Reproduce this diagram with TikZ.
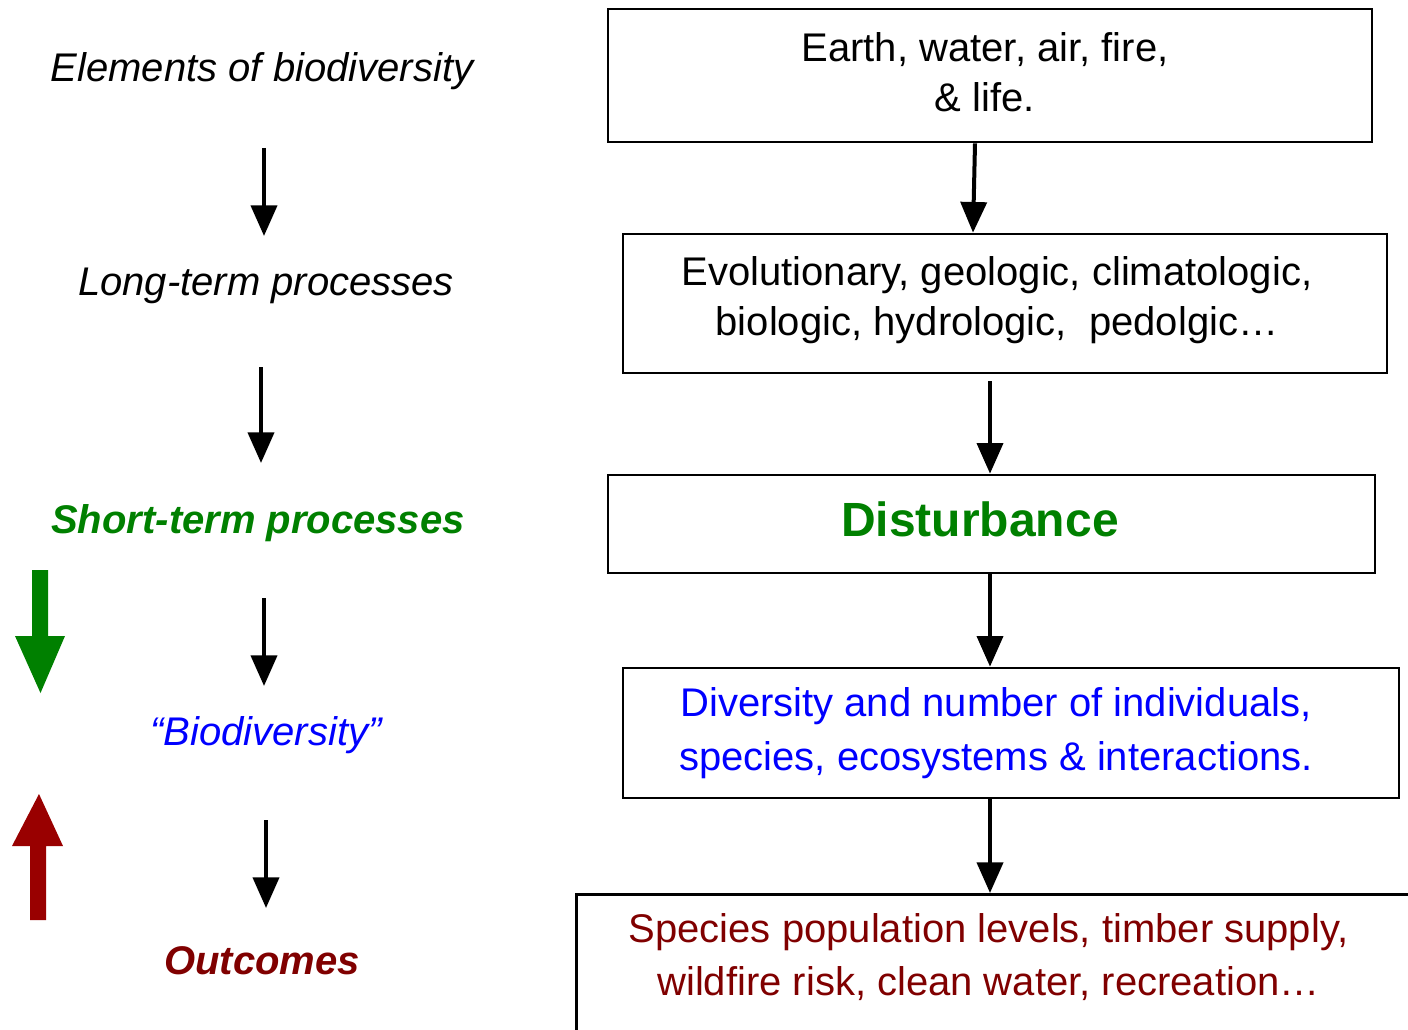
\documentclass[tikz,border=0pt]{standalone}
\usepackage{fontspec}
\setmainfont{Liberation Sans}
\usetikzlibrary{arrows.meta,calc}

\definecolor{bdgreen}{RGB}{0,128,0}
\definecolor{bdblue}{RGB}{0,0,255}
\definecolor{bdred}{RGB}{128,0,0}
\definecolor{bdarrowred}{RGB}{153,0,0}

\tikzset{every picture/.style={line width=0.75pt}}
\tikzset{
  box/.style={draw, line width=2pt, inner sep=0pt},
  boxtxt/.style={align=center, inner sep=0pt, font=\fontsize{30}{37.5}\selectfont},
  lefttxt/.style={inner sep=0pt, font=\fontsize{30}{36}\selectfont\itshape},
  flowarrow/.style={-{Triangle[width=19.5pt,length=23pt]}, line width=3pt}
}

\begin{document}
\begin{tikzpicture}[x=0.75pt,y=0.75pt,yscale=-1,xscale=1]
\useasboundingbox (0,0) rectangle (1408,1030);
\clip (0,0) rectangle (1408,1030);

% Left column
\node[lefttxt] (l1) at (262,71) {Elements of biodiversity};
\node[lefttxt] (l2) at (266,286) {Long-term processes};
\node[lefttxt, font=\fontsize{30}{36}\selectfont\bfseries\itshape, text=bdgreen] (l3) at (258,523) {Short-term processes};
\node[lefttxt, text=bdblue] (l4) at (266,735) {“Biodiversity”};
\node[lefttxt, font=\fontsize{30}{36}\selectfont\bfseries\itshape, text=bdred] (l5) at (262,961) {Outcomes};

\coordinate (a1s) at (264,148);
\coordinate (a1e) at (264,236);
\coordinate (a2s) at (261,367);
\coordinate (a2e) at (261,463);
\coordinate (a3s) at (264,598);
\coordinate (a3e) at (264,686);
\coordinate (a4s) at (266,820);
\coordinate (a4e) at (266,908);
\draw[flowarrow] (a1s) -- (a1e);
\draw[flowarrow] (a2s) -- (a2e);
\draw[flowarrow] (a3s) -- (a3e);
\draw[flowarrow] (a4s) -- (a4e);

% Big arrows
\fill[bdgreen] (32,570) -- (48,570) -- (48,636) -- (65,636) -- (40.5,693) -- (15,636) -- (32,636) -- cycle;
\fill[bdarrowred] (30,920) -- (46,920) -- (46,846) -- (63,846) -- (39,794) -- (12,846) -- (30,846) -- cycle;

% Right column boxes
\node[box, minimum width=573pt, minimum height=99.75pt] (b1) at (990,75.5) {};
\node[box, minimum width=573pt, minimum height=104.25pt] (b2) at (1005,303.5) {};
\node[box, minimum width=575.25pt, minimum height=73.5pt] (b3) at (991.5,524) {};
\node[box, minimum width=582pt, minimum height=97.5pt] (b4) at (1011,733) {};
\node[box, minimum width=641.25pt, minimum height=117.75pt, anchor=north west] (b5) at (575,893) {};

\node[boxtxt] (t1) at (985,72.5) {Earth, water, air, fire,\\ \& life.};
\node[boxtxt] (t2) at (997,300.5) {Evolutionary, geologic, climatologic,\\ biologic, hydrologic,\ \ pedolgic…};
\node[inner sep=0pt, font=\fontsize{36}{40}\selectfont\bfseries, text=bdgreen] (t3) at (980,519.7) {Disturbance};
\node[boxtxt, font=\fontsize{30}{40.5}\selectfont, text=bdblue] (t4) at (996,733.5) {Diversity and number of individuals,\\ species, ecosystems \& interactions.};
\node[boxtxt, font=\fontsize{30}{40}\selectfont, text=bdred] (t5) at (988.5,957) {Species population levels, timber supply,\\ wildfire risk, clean water, recreation…};

\draw[flowarrow] (975,0 |- b1.south) -- (973,0 |- b2.north);
\draw[flowarrow] ($(990,0 |- b2.south)+(0,7)$) -- (990,0 |- b3.north);
\draw[flowarrow] (990,0 |- b3.south) -- (990,0 |- b4.north);
\draw[flowarrow] (990,0 |- b4.south) -- (990,0 |- b5.north);

\end{tikzpicture}
\end{document}
